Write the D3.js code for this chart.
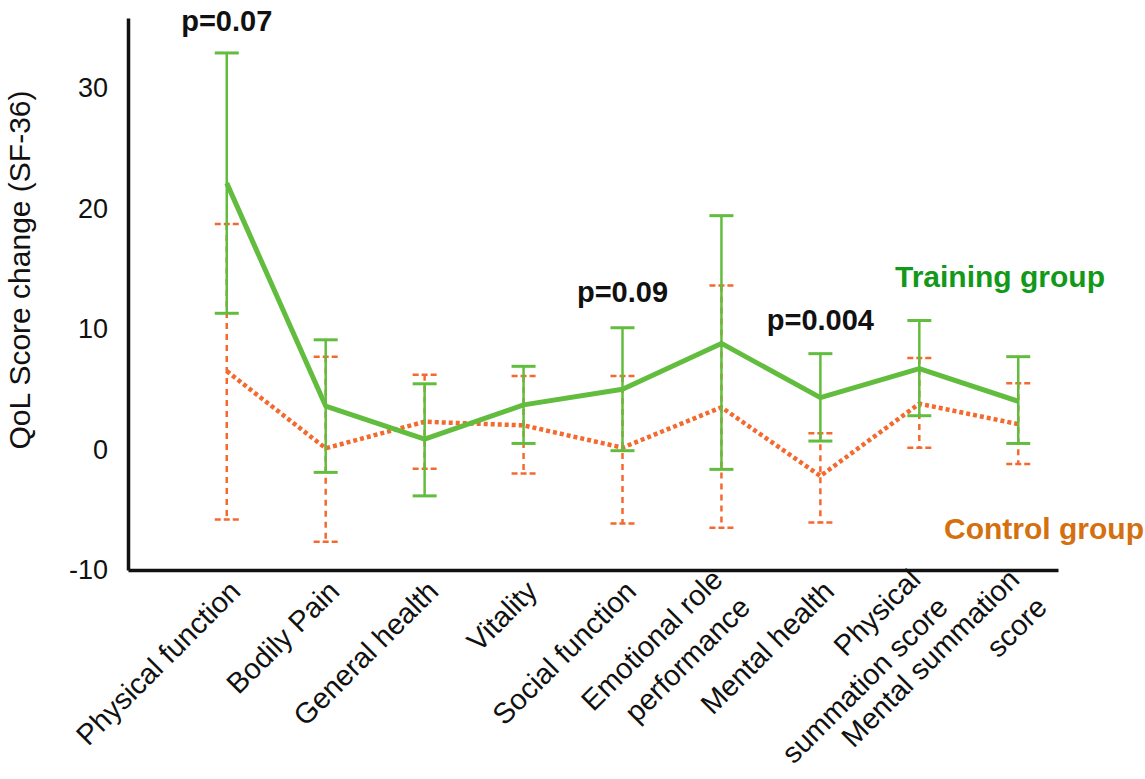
<!DOCTYPE html>
<html>
<head>
<meta charset="utf-8">
<script src="https://cdn.jsdelivr.net/npm/d3@7"></script>
<style>
  body { margin: 0; background: #fff; }
  svg { display: block; font-family: "Liberation Sans", Arial, sans-serif; }
</style>
</head>
<body>
<svg id="chart" width="1145" height="779"></svg>
<script>
// SF-36 domains (line breaks = "\n")
const categories = ["Physical function", "Bodily Pain", "General health", "Vitality", "Social function",
  "Emotional role\nperformance", "Mental health", "Physical\nsummation score", "Mental summation\nscore"];

// training group: mean change and error bar ends
const trainingMean  = [22.1, 3.6, 0.85, 3.7, 5.0, 8.8, 4.3, 6.7, 4.0];
const trainingUpper = [32.9, 9.1, 5.45, 6.9, 10.1, 19.4, 7.95, 10.7, 7.7];
const trainingLower = [11.3, -1.9, -3.85, 0.5, -0.1, -1.65, 0.7, 2.8, 0.5];

// control group
const controlMean  = [6.5, 0.1, 2.3, 2.0, 0.15, 3.5, -2.2, 3.8, 2.1];
const controlUpper = [18.7, 7.7, 6.2, 6.1, 6.1, 13.6, 1.35, 7.6, 5.5];
const controlLower = [-5.8, -7.65, -1.6, -2.0, -6.15, -6.5, -6.05, 0.15, -1.2];

const yTicks = [-10, 0, 10, 20, 30];

// p-value annotations
const pCats = ["Physical function", "Social function", "Mental health"];
const pTexts = ["p=0.07", "p=0.09", "p=0.004"];

document.addEventListener("DOMContentLoaded", () => {
    const svg = d3.select("#chart");

    const x = d3.scalePoint()
        .domain(categories)
        .range([128, 1058])
        .padding(0.7)
        .align(0.713);

    const y = d3.scaleLinear()
        .domain([-10, 35.8])
        .range([570, 18]);

    const green = "#62bd3f";
    const orange = "#f4692e";
    const capW = 12;

    const rows = categories.map((c, i) => ({
        cat: c,
        tm: trainingMean[i], tu: trainingUpper[i], tl: trainingLower[i],
        cm: controlMean[i], cu: controlUpper[i], cl: controlLower[i]
    }));

    // control group (drawn first, behind)
    const ctrl = svg.append("g");
    ctrl.selectAll(".cbar")
        .data(rows)
        .enter()
        .append("line")
        .attr("x1", d => x(d.cat)).attr("x2", d => x(d.cat))
        .attr("y1", d => y(d.cu)).attr("y2", d => y(d.cl))
        .attr("stroke", orange).attr("stroke-width", 2.5)
        .attr("stroke-dasharray", "6,5");
    ["cu", "cl"].forEach(k => {
        ctrl.selectAll(".ccap-" + k)
            .data(rows)
            .enter()
            .append("line")
            .attr("x1", d => x(d.cat) - capW).attr("x2", d => x(d.cat) + capW)
            .attr("y1", d => y(d[k])).attr("y2", d => y(d[k]))
            .attr("stroke", orange).attr("stroke-width", 2.5)
            .attr("stroke-dasharray", "6,3");
    });
    ctrl.append("path")
        .datum(rows)
        .attr("fill", "none")
        .attr("stroke", orange)
        .attr("stroke-width", 4.5)
        .attr("stroke-dasharray", "4,3")
        .attr("d", d3.line().x(d => x(d.cat)).y(d => y(d.cm)));

    // training group
    const tr = svg.append("g");
    tr.selectAll(".tbar")
        .data(rows)
        .enter()
        .append("line")
        .attr("x1", d => x(d.cat)).attr("x2", d => x(d.cat))
        .attr("y1", d => y(d.tu)).attr("y2", d => y(d.tl))
        .attr("stroke", green).attr("stroke-width", 2.5);
    ["tu", "tl"].forEach(k => {
        tr.selectAll(".tcap-" + k)
            .data(rows)
            .enter()
            .append("line")
            .attr("x1", d => x(d.cat) - capW).attr("x2", d => x(d.cat) + capW)
            .attr("y1", d => y(d[k])).attr("y2", d => y(d[k]))
            .attr("stroke", green).attr("stroke-width", 3);
    });
    tr.append("path")
        .datum(rows)
        .attr("fill", "none")
        .attr("stroke", green)
        .attr("stroke-width", 5)
        .attr("stroke-linejoin", "round")
        .attr("d", d3.line().x(d => x(d.cat)).y(d => y(d.tm)));

    // y axis
    const yAxisG = svg.append("g")
        .attr("transform", "translate(128,0)")
        .call(d3.axisLeft(y).tickValues(yTicks).tickSize(0).tickPadding(20).tickFormat(d => String(d)));
    yAxisG.selectAll("text")
        .style("font-size", "27px")
        .style("fill", "#111");

    // x axis
    const xAxisG = svg.append("g")
        .attr("transform", "translate(0,570)")
        .call(d3.axisBottom(x).tickSize(0).tickSizeOuter(0));

    [yAxisG, xAxisG].forEach(g => g.select(".domain")
        .attr("stroke", "#111")
        .attr("stroke-width", 3.5));

    xAxisG.selectAll("text")
        .each(function (d) {
            const t = d3.select(this);
            const lines = d.split("\n");
            const multi = lines.length > 1;
            t.text(null)
                .attr("y", 0)
                .attr("dy", null)
                .attr("text-anchor", "end")
                .attr("transform", multi ? "translate(13,22) rotate(-45)" : "translate(15,23) rotate(-45)")
                .style("font-size", "29px")
                .style("fill", "#111");
            lines.forEach((ln, i) => {
                t.append("tspan")
                    .attr("x", 0)
                    .attr("y", multi ? (i === 0 ? -15 : 24) : 0)
                    .text(ln);
            });
        });

    // y title
    svg.append("text")
        .attr("transform", `translate(30, ${270}) rotate(-90)`)
        .attr("text-anchor", "middle")
        .style("font-size", "30px")
        .style("fill", "#111")
        .text("QoL Score change (SF-36)");

    // p-value labels
    const pY = [34.7, 12.2, 9.9];
    svg.selectAll(".pval")
        .data(pCats)
        .enter()
        .append("text")
        .attr("x", d => x(d))
        .attr("y", (d, i) => y(pY[i]))
        .attr("text-anchor", "middle")
        .style("font-size", "29px")
        .style("font-weight", "bold")
        .style("fill", "#111")
        .text((d, i) => pTexts[i]);

    // group labels
    svg.append("text")
        .attr("x", 895).attr("y", 287)
        .style("font-size", "30px").style("font-weight", "bold")
        .style("fill", "#12991a")
        .text("Training group");
    svg.append("text")
        .attr("x", 944).attr("y", 539)
        .style("font-size", "30px").style("font-weight", "bold")
        .style("fill", "#d4700f")
        .text("Control group");
});
</script>
</body>
</html>
